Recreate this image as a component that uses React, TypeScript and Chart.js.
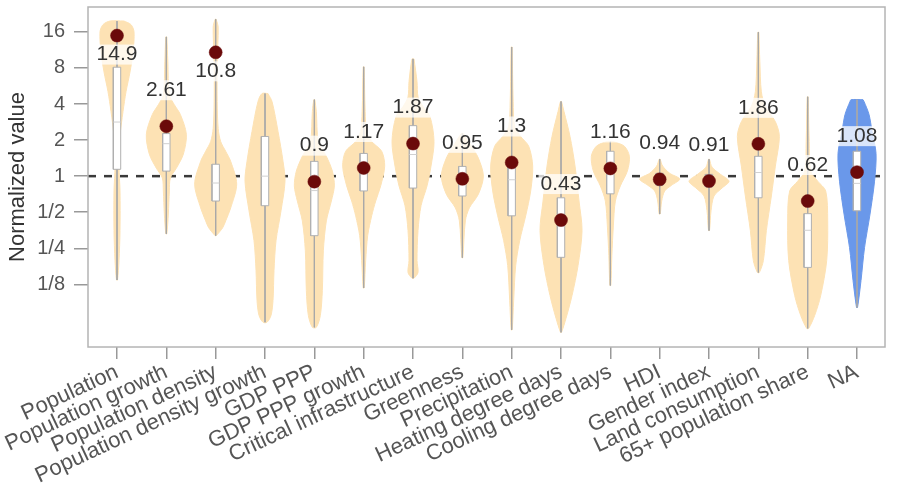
import React, { useEffect, useRef } from 'react';
import { Chart, registerables } from 'chart.js';

Chart.register(...registerables);

// ---------------- DATA ----------------
const categories = [
  'Population', 'Population growth', 'Population density', 'Population density growth',
  'GDP PPP', 'GDP PPP growth', 'Critical infrastructure', 'Greenness', 'Precipitation',
  'Heating degree days', 'Cooling degree days', 'HDI', 'Gender index', 'Land consumption',
  '65+ population share', 'NA',
];

// mean normalized value per category (null = not shown)
const means: (number | null)[] = [14.9, 2.61, 10.8, null, 0.9, 1.17, 1.87, 0.95, 1.3, 0.43, 1.16, 0.94, 0.91, 1.86, 0.62, 1.08];

// box statistics, log2 of normalized value
const boxQ1 = [0.19, 0.14, -0.69, -0.82, -1.65, -0.41, -0.33, -0.55, -1.1, -2.25, -0.49, -0.25, -0.3, -0.6, -2.53, -0.96];
const boxMedian = [1.5, 0.9, -0.19, 0.0, -0.4, 0.15, 0.6, -0.1, -0.1, -1.2, 0.2, -0.1, -0.15, 0.1, -1.5, -0.2];
const boxQ3 = [3.02, 1.18, 0.33, 1.1, 0.41, 0.63, 1.4, 0.27, 0.33, -0.6, 0.69, 0.08, 0.05, 0.55, -1.04, 0.69];

// y tick exponents (log2)
const yTickExponents = [-3, -2, -1, 0, 1, 2, 3, 4];

// violin profiles: [log2 value, relative density], from top to bottom
const populationViolin = [[4.3, 7], [4.2, 14], [4.0, 17], [3.44, 16], [2.89, 13], [2.34, 9], [1.79, 6], [1.1, 3], [0.27, 2], [-0.41, 3], [-1.51, 3], [-2.34, 2], [-2.88, 0.5]];
const populationGrowthViolin = [[3.86, 0.5], [3.17, 1.5], [2.26, 3], [1.98, 8], [1.71, 14], [1.16, 20], [0.61, 17], [0.22, 10], [-0.05, 4], [-0.41, 3], [-1.05, 2], [-1.6, 0.5]];
const populationDensityViolin = [[4.35, 0.5], [4.13, 2.5], [3.17, 1.5], [2.07, 1.5], [1.32, 2.5], [0.96, 5], [0.69, 10], [0.41, 15], [-0.22, 21], [-0.88, 15], [-1.24, 10], [-1.43, 7], [-1.65, 0.5]];
const populationDensityGrowthViolin = [[2.29, 3], [2.07, 7], [1.24, 13], [0.41, 18], [-0.14, 20], [-0.96, 16], [-1.79, 11], [-2.61, 9], [-3.44, 8], [-3.86, 6], [-4.05, 2]];
const gdpViolin = [[2.12, 0.5], [1.79, 2], [0.96, 4], [0.55, 12], [0.14, 18], [-0.27, 20], [-0.69, 17], [-1.24, 12], [-2.07, 9], [-3.17, 8], [-3.86, 6], [-4.19, 2]];
const gdpGrowthViolin = [[3.03, 0.5], [1.79, 1.5], [1.24, 3], [0.96, 8], [0.69, 18], [0.28, 21], [-0.27, 17], [-0.69, 12], [-1.1, 8], [-1.65, 4], [-2.34, 2], [-3.1, 0.5]];
const infrastructureViolin = [[3.25, 1], [2.62, 4], [2.2, 5], [1.93, 10], [1.65, 17], [0.96, 21], [0.28, 18], [-0.27, 14], [-0.82, 8], [-1.51, 5], [-2.34, 4], [-2.67, 5], [-2.83, 1]];
const greennessViolin = [[1.18, 1], [0.88, 8], [0.5, 16], [0.0, 21], [-0.5, 16], [-0.88, 7], [-1.24, 3], [-2.26, 0.5]];
const precipitationViolin = [[3.58, 0.5], [2.07, 1.5], [1.38, 3], [1.1, 9], [0.83, 17], [0.28, 21], [-0.41, 19], [-1.1, 14], [-1.79, 8], [-2.48, 4], [-3.44, 2], [-4.26, 0.5]];
const heatingViolin = [[2.07, 0.5], [1.79, 3], [1.1, 9], [0.28, 14], [-0.69, 18], [-1.51, 21], [-2.48, 17], [-3.31, 11], [-3.94, 5], [-4.33, 0.5]];
const coolingViolin = [[0.96, 3], [0.83, 14], [0.55, 19], [0.14, 17], [-0.27, 10], [-0.69, 5], [-1.38, 3], [-2.2, 1.5], [-3.03, 0.5]];
const hdiViolin = [[0.47, 0.5], [0.28, 3], [0.08, 10], [-0.08, 20], [-0.25, 12], [-0.41, 5], [-0.69, 2], [-1.05, 0.5]];
const genderViolin = [[0.47, 0.5], [0.25, 3], [0.06, 11], [-0.14, 20], [-0.33, 13], [-0.55, 5], [-0.96, 2], [-1.51, 0.5]];
const landViolin = [[3.99, 0.5], [3.17, 1.5], [2.34, 3], [1.93, 7], [1.51, 17], [1.1, 21], [0.28, 17], [-0.55, 13], [-1.51, 8], [-2.34, 5], [-2.67, 1]];
const elderlyViolin = [[2.2, 0.5], [0.96, 1.5], [0.14, 3], [-0.14, 10], [-0.41, 18], [-1.24, 20], [-2.34, 19], [-3.31, 13], [-3.86, 7], [-4.22, 1]];
const naViolin = [[2.12, 6], [2.07, 7], [1.71, 12], [1.24, 15], [0.63, 19], [-0.14, 17.5], [-1.05, 13], [-1.98, 7.5], [-2.89, 4], [-3.64, 0.5]];

const violins = [
  populationViolin, populationGrowthViolin, populationDensityViolin, populationDensityGrowthViolin,
  gdpViolin, gdpGrowthViolin, infrastructureViolin, greennessViolin, precipitationViolin,
  heatingViolin, coolingViolin, hdiViolin, genderViolin, landViolin, elderlyViolin, naViolin,
];

// ---------------- STYLE ----------------
const FONT = '"Liberation Sans", Arial, sans-serif';
const ORANGE = '#fde2b4';
const BLUE = '#6a98ea';
const BOX_BORDER = '#b0b0b0';
const WHISKER = '#a8a8a8';
const DOT = '#6b0a0a';
const X_MIN = -0.588;
const X_MAX = 15.567;
const Y_MIN = -4.736;
const Y_MAX = 4.689;
const DENSITY_SCALE = 1 / 49.3;
const BOX_HALF = 0.075;

const frameAndLabels = {
  id: 'frameAndLabels',
  afterDatasetsDraw(chart: any) {
    const { ctx, chartArea, scales } = chart;
    const x = scales.x;
    const y = scales.y;
    ctx.save();
    ctx.font = `21px ${FONT}`;
    ctx.textAlign = 'center';
    ctx.textBaseline = 'middle';
    means.forEach((m, i) => {
      if (m == null) return;
      const px = x.getPixelForValue(i);
      const py = y.getPixelForValue(Math.log2(m));
      let ly = py - 36;
      if (ly - 12 < chartArea.top + 20) ly = py + 19;
      const text = String(m);
      const w = ctx.measureText(text).width;
      ctx.fillStyle = 'rgba(255,255,255,0.75)';
      ctx.fillRect(px - w / 2 - 2, ly - 10, w + 4, 20);
      ctx.fillStyle = '#333';
      ctx.fillText(text, px, ly);
    });
    ctx.strokeStyle = '#b4b4b4';
    ctx.lineWidth = 1.5;
    ctx.strokeRect(chartArea.left, chartArea.top, chartArea.right - chartArea.left, chartArea.bottom - chartArea.top);
    ctx.restore();
  },
};

export default function App() {
  const ref = useRef<HTMLCanvasElement>(null);

  useEffect(() => {
    if (!ref.current) return;
    const datasets: any[] = [];

    datasets.push({
      data: [{ x: X_MIN, y: 0 }, { x: X_MAX, y: 0 }],
      borderColor: '#3a3a3a', borderWidth: 2.5, borderDash: [8, 8],
      pointRadius: 0, fill: false, order: 20,
    });

    violins.forEach((prof, i) => {
      const color = categories[i] === 'NA' ? BLUE : ORANGE;
      const right = prof.map(([l, d]) => ({ x: i + d * DENSITY_SCALE, y: l }));
      const left = prof.slice().reverse().map(([l, d]) => ({ x: i - d * DENSITY_SCALE, y: l }));
      datasets.push({
        data: [...right, ...left, right[0]],
        fill: 'shape', backgroundColor: color, borderColor: color, borderWidth: 1,
        pointRadius: 0, tension: 0.3, order: 15,
      });
      datasets.push({
        data: [{ x: i, y: prof[0][0] }, { x: i, y: prof[prof.length - 1][0] }],
        borderColor: WHISKER, borderWidth: 1, pointRadius: 0, fill: false, order: 12,
      });
      const q1 = boxQ1[i];
      const q3 = boxQ3[i];
      datasets.push({
        data: [
          { x: i - BOX_HALF, y: q1 }, { x: i + BOX_HALF, y: q1 },
          { x: i + BOX_HALF, y: q3 }, { x: i - BOX_HALF, y: q3 }, { x: i - BOX_HALF, y: q1 },
        ],
        fill: 'shape', backgroundColor: '#ffffff', borderColor: BOX_BORDER, borderWidth: 1,
        pointRadius: 0, tension: 0, order: 10,
      });
      datasets.push({
        data: [{ x: i - BOX_HALF, y: boxMedian[i] }, { x: i + BOX_HALF, y: boxMedian[i] }],
        borderColor: '#d0d0d0', borderWidth: 1, pointRadius: 0, fill: false, order: 9,
      });
    });

    const meanPoints: any[] = [];
    means.forEach((m, i) => { if (m != null) meanPoints.push({ x: i, y: Math.log2(m) }); });
    datasets.push({
      data: meanPoints, showLine: false, pointRadius: 6.5,
      pointBackgroundColor: DOT, pointBorderColor: DOT, pointBorderWidth: 0.5, order: 1,
    });

    const chart = new Chart(ref.current, {
      type: 'line',
      data: { datasets },
      plugins: [frameAndLabels],
      options: {
        responsive: false,
        animation: false,
        events: [],
        layout: { padding: { top: 5, right: 28, left: 0, bottom: 0 } },
        plugins: { legend: { display: false }, tooltip: { enabled: false } },
        scales: {
          x: {
            type: 'linear', min: X_MIN, max: X_MAX,
            afterBuildTicks: (s: any) => { s.ticks = categories.map((_, i) => ({ value: i })); },
            afterFit: (s: any) => { s.height = 150; s.paddingLeft = 0; s.paddingRight = 0; },
            ticks: {
              autoSkip: false, minRotation: 25, maxRotation: 25, padding: 0,
              color: '#555', font: { family: FONT, size: 22 },
              callback: (v: any) => categories[v as number],
            },
            grid: { drawOnChartArea: false, drawTicks: true, tickLength: 12, color: '#999', lineWidth: 1.5 },
            border: { display: false },
          },
          y: {
            type: 'linear', min: Y_MIN, max: Y_MAX,
            afterBuildTicks: (s: any) => { s.ticks = yTickExponents.map((v) => ({ value: v })); },
            afterFit: (s: any) => { s.width = 88; s.paddingTop = 0; s.paddingBottom = 0; },
            ticks: {
              padding: 9, color: '#555', font: { family: FONT, size: 20 },
              callback: (v: any) => (v >= 0 ? String(Math.pow(2, v)) : '1/' + Math.pow(2, -v)),
            },
            grid: { drawOnChartArea: false, drawTicks: true, tickLength: 14, color: '#999', lineWidth: 1.5 },
            border: { display: false },
            title: {
              display: true, text: 'Normalized value', color: '#333',
              font: { family: FONT, size: 22 }, padding: { top: 5, bottom: 0 },
            },
          },
        },
      } as any,
    });
    return () => chart.destroy();
  }, []);

  return (
    <div style={{ position: 'fixed', left: 0, top: 0, width: 913, height: 497, background: '#fff' }}>
      <canvas ref={ref} width={913} height={497} />
    </div>
  );
}
